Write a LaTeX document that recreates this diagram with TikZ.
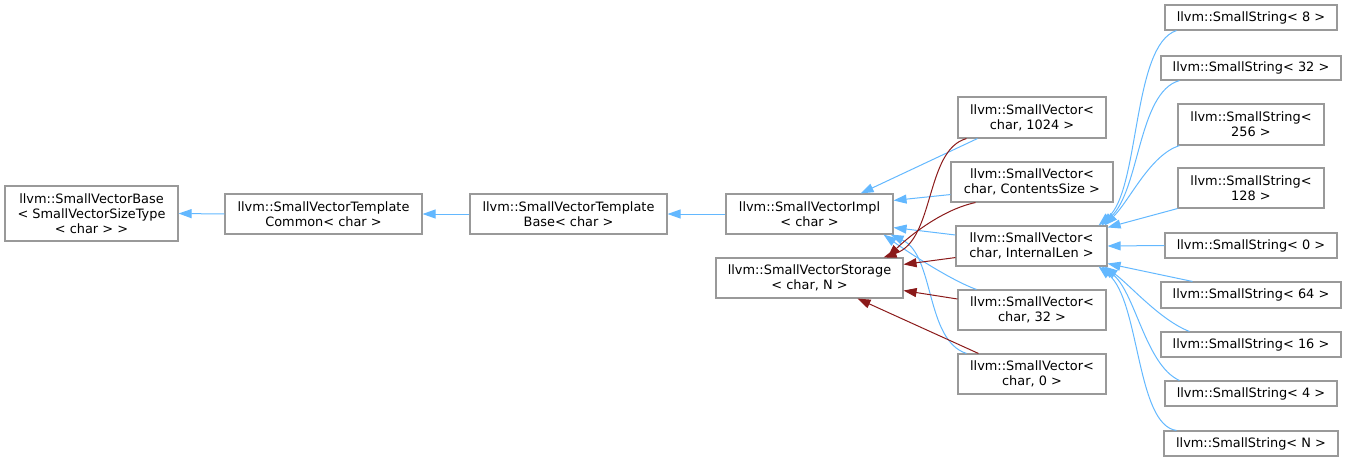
\documentclass[tikz,border=0pt]{standalone}
\usepackage{fontspec}
\setmainfont{DejaVu Sans}
\usetikzlibrary{arrows.meta,calc}
\definecolor{pubc}{HTML}{63B8FF}
\definecolor{tplc}{HTML}{8B1A1A}
\definecolor{boxc}{HTML}{999999}
\begin{document}
\begin{tikzpicture}[x=1pt,y=-1pt,
  font=\fontsize{12.9}{15}\selectfont,
  cls/.style={draw=boxc, line width=1.1pt, fill=white, align=center, inner sep=0pt},
  pub/.style={draw=pubc, line width=1pt, -{Triangle[length=13pt,width=9pt]}},
  tpl/.style={draw=tplc, line width=1pt, -{Triangle[length=13pt,width=9pt]}}]
\useasboundingbox (0,0) rectangle (1347,461);
% nodes
\node[cls, minimum width=173pt, minimum height=55pt] (base) at (91.5,213.5) {llvm::SmallVectorBase\\< SmallVectorSizeType\\< char > >};
\node[cls, minimum width=197pt, minimum height=40pt] (common) at (323.5,214) {llvm::SmallVectorTemplate\\Common< char >};
\node[cls, minimum width=197pt, minimum height=40pt] (tbase) at (568.5,214) {llvm::SmallVectorTemplate\\Base< char >};
\node[cls, minimum width=167pt, minimum height=40pt] (impl) at (809.5,214) {llvm::SmallVectorImpl\\< char >};
\node[cls, minimum width=187pt, minimum height=40pt] (storage) at (809.5,278) {llvm::SmallVectorStorage\\< char, N >};
\node[cls, minimum width=148pt, minimum height=41pt] (sv1024) at (1032,117.5) {llvm::SmallVector<\\char, 1024 >};
\node[cls, minimum width=162pt, minimum height=40pt] (svcs) at (1032,182) {llvm::SmallVector<\\char, ContentsSize >};
\node[cls, minimum width=151pt, minimum height=40pt] (svil) at (1031.5,246) {llvm::SmallVector<\\char, InternalLen >};
\node[cls, minimum width=148pt, minimum height=40pt] (sv32) at (1032,310) {llvm::SmallVector<\\char, 32 >};
\node[cls, minimum width=148pt, minimum height=40pt] (sv0) at (1032,374) {llvm::SmallVector<\\char, 0 >};
\node[cls, minimum width=172pt, minimum height=25pt] (ss8) at (1251,17.5) {llvm::SmallString< 8 >};
\node[cls, minimum width=180pt, minimum height=24pt] (ss32) at (1251,68) {llvm::SmallString< 32 >};
\node[cls, minimum width=146pt, minimum height=41pt] (ss256) at (1251,124.5) {llvm::SmallString<\\256 >};
\node[cls, minimum width=146pt, minimum height=40pt] (ss128) at (1251,188) {llvm::SmallString<\\128 >};
\node[cls, minimum width=172pt, minimum height=25pt] (ss0) at (1251,245.5) {llvm::SmallString< 0 >};
\node[cls, minimum width=180pt, minimum height=26pt] (ss64) at (1251,295) {llvm::SmallString< 64 >};
\node[cls, minimum width=180pt, minimum height=25pt] (ss16) at (1251,344.5) {llvm::SmallString< 16 >};
\node[cls, minimum width=172pt, minimum height=25pt] (ss4) at (1251,393.5) {llvm::SmallString< 4 >};
\node[cls, minimum width=174pt, minimum height=25pt] (ssN) at (1251,443.5) {llvm::SmallString< N >};
% main chain
\draw[pub] (common.west) -- (base.east);
\draw[pub] (tbase.west) -- (common.east);
\draw[pub] (impl.west) -- (tbase.east);
% SmallVector -> Impl
\draw[pub] ($(sv1024.south west)+(20,0)$) -- ($(impl.north east)+(-33,0)$);
\draw[pub] ($(svcs.south west)+(0,-8)$) -- ($(impl.north east)+(0,7)$);
\draw[pub] ($(svil.west)+(0,-11)$) -- ($(impl.south east)+(0,-7)$);
\draw[pub] ($(sv32.north west)+(19,0)$) .. controls (950,280) and (905,250) .. ($(impl.south east)+(-10,0)$);
\draw[pub] ($(sv0.north west)+(9,0)$) .. controls (925,340) and (935,255) .. ($(impl.south east)+(-3,0)$);
% SmallVector -> Storage
\draw[tpl] ($(sv1024.south west)+(9,0)$) .. controls (925,150) and (935,240) .. ($(storage.north east)+(-20,0)$);
\draw[tpl] ($(svcs.south west)+(25,0)$) .. controls (940,210) and (905,240) .. ($(storage.north east)+(-16,0)$);
\draw[tpl] ($(svil.south west)+(0,-9)$) -- ($(storage.north east)+(0,7)$);
\draw[tpl] ($(sv32.west)+(0,-11)$) -- ($(storage.south east)+(0,-8)$);
\draw[tpl] ($(sv0.north west)+(21,0)$) -- ($(storage.south)+(48,0)$);
% SmallString -> SmallVector<char, InternalLen>
\draw[pub] ($(ss8.south west)+(12,0)$) .. controls (1132,45) and (1140,190) .. ($(svil.north east)+(-9,0)$);
\draw[pub] ($(ss32.south west)+(19,0)$) .. controls (1138,92) and (1140,190) .. ($(svil.north east)+(-6,0)$);
\draw[pub] ($(ss256.south west)+(2,0)$) .. controls (1150,155) and (1130,200) .. ($(svil.north east)+(-3,0)$);
\draw[pub] (ss128.south west) -- ($(svil.north east)+(0,2)$);
\draw[pub] (ss0.west) -- (svil.east);
\draw[pub] ($(ss64.north west)+(32,0)$) -- ($(svil.south east)+(0,-3)$);
\draw[pub] ($(ss16.north west)+(29,0)$) .. controls (1160,320) and (1130,285) .. ($(svil.south east)+(-3,0)$);
\draw[pub] ($(ss4.north west)+(15,0)$) .. controls (1145,365) and (1135,290) .. ($(svil.south east)+(-6,0)$);
\draw[pub] ($(ssN.north west)+(13,0)$) .. controls (1136,425) and (1140,300) .. ($(svil.south east)+(-9,0)$);
\end{tikzpicture}
\end{document}
